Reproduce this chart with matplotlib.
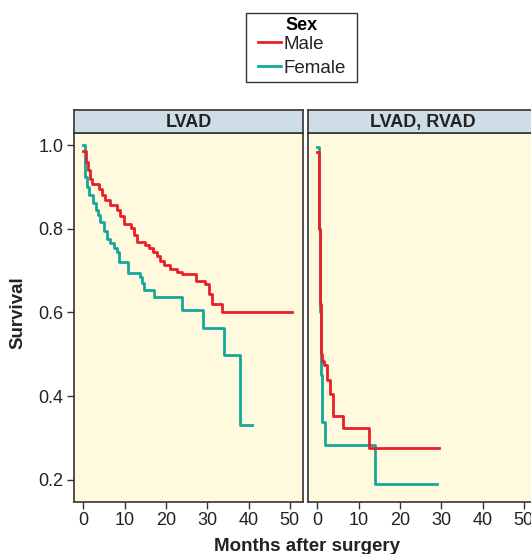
import matplotlib
matplotlib.use("Agg")
import matplotlib.pyplot as plt
from matplotlib.lines import Line2D
from matplotlib.patches import Rectangle

plt.rcParams['font.family'] = ['Liberation Sans', 'DejaVu Sans']

# survival step curves (time in months, survival after that time)
lvad_male_t = [0, 0.5, 1.0, 1.5, 2.1, 3.7, 4.5, 5.3, 6.5, 8.1, 8.8, 9.7, 11.4, 12.2, 13.0,
               15.0, 15.8, 16.8, 17.8, 18.5, 19.4, 21.0, 22.6, 23.8, 27.3, 29.5, 30.3,
               31.1, 33.5, 50.6]
lvad_male_s = [0.985, 0.96, 0.94, 0.92, 0.908, 0.895, 0.88, 0.869, 0.857, 0.845, 0.83, 0.812,
               0.803, 0.785, 0.768, 0.762, 0.755, 0.745, 0.735, 0.722, 0.713, 0.705, 0.697,
               0.692, 0.675, 0.667, 0.645, 0.62, 0.60, 0.60]

lvad_female_t = [0, 0.3, 0.9, 1.3, 2.3, 3.0, 3.5, 4.1, 4.9, 5.7, 6.5, 7.3, 8.1, 8.6, 10.9,
                 13.8, 14.2, 14.6, 17.0, 23.8, 28.9, 34.1, 37.9, 40.9]
lvad_female_s = [1.0, 0.924, 0.90, 0.881, 0.861, 0.845, 0.833, 0.817, 0.795, 0.775, 0.765,
                 0.755, 0.745, 0.72, 0.694, 0.685, 0.67, 0.654, 0.636, 0.606, 0.562, 0.498,
                 0.331, 0.331]

rvad_male_t = [0, 0.3, 0.6, 0.9, 1.0, 1.6, 2.2, 3.0, 3.8, 6.1, 12.6, 29.5]
rvad_male_s = [0.984, 0.8, 0.62, 0.5, 0.483, 0.475, 0.439, 0.405, 0.353, 0.323, 0.277, 0.277]

rvad_female_t = [0, 0.3, 0.6, 0.9, 1.0, 1.8, 13.9, 29.0]
rvad_female_s = [0.996, 0.8, 0.6, 0.45, 0.339, 0.284, 0.19, 0.19]

panels = ["LVAD", "LVAD, RVAD"]
groups = ["Male", "Female"]
colors = {"Male": "#e8202a", "Female": "#14a89a"}
x_ticks = [0, 10, 20, 30, 40, 50]
y_ticks = [0.2, 0.4, 0.6, 0.8, 1.0]

curves = {
    "LVAD": {"Male": (lvad_male_t, lvad_male_s), "Female": (lvad_female_t, lvad_female_s)},
    "LVAD, RVAD": {"Male": (rvad_male_t, rvad_male_s), "Female": (rvad_female_t, rvad_female_s)},
}

fig = plt.figure(figsize=(5.31, 5.54), dpi=100)

W, H = 531, 554
panel_left = [74, 308]
pw = 229
top, bottom, strip_top = 133, 502, 110
edge = "#333333"

for i, name in enumerate(panels):
    ax = fig.add_axes([panel_left[i] / W, 1 - bottom / H, pw / W, (bottom - top) / H])
    ax.set_facecolor("#fffade")
    # female drawn first so red sits on top
    for g in ["Female", "Male"]:
        t, s = curves[name][g]
        ax.plot(t, s, drawstyle="steps-post", color=colors[g], lw=2.0)
    ax.set_xlim(-2.3, 53.2)
    ax.set_ylim(0.147, 1.029)
    ax.set_xticks(x_ticks)
    ax.set_yticks(y_ticks)
    ax.tick_params(colors=edge, labelsize=13, length=5, width=1, labelcolor="#222222", pad=2.5)
    if i > 0:
        ax.tick_params(axis="y", left=False, labelleft=False)
    else:
        ax.set_yticklabels(["0.2", "0.4", "0.6", "0.8", "1.0"])
    for sp in ax.spines.values():
        sp.set_color(edge)
        sp.set_linewidth(1.2)

    sax = fig.add_axes([panel_left[i] / W, 1 - top / H, pw / W, (top - strip_top) / H])
    sax.set_facecolor("#cfdde6")
    sax.set_xticks([])
    sax.set_yticks([])
    for sp in sax.spines.values():
        sp.set_color(edge)
        sp.set_linewidth(1.2)
    sax.text(0.5, 0.45, name, ha="center", va="center", fontsize=13,
             fontweight="bold", color="#222222", transform=sax.transAxes)

fig.text(18 / W, 1 - 313 / H, "Survival", rotation=90, ha="center", va="center",
         fontsize=13.5, fontweight="bold", color="#222222")
fig.text(307 / W, 1 - 551 / H, "Months after surgery", ha="center", va="baseline",
         fontsize=13.5, fontweight="bold", color="#222222")

# legend box drawn separately so the padding matches
fig.patches.append(Rectangle((246 / W, 1 - 82 / H), 111 / W, 69 / H, transform=fig.transFigure,
                             facecolor="white", edgecolor=edge, lw=1.0))
handles = [Line2D([], [], color=colors[g], lw=2.0) for g in groups]
leg = fig.legend(handles, groups, title="Sex", loc="center", bbox_to_anchor=(302 / W, 1 - 47 / H),
                 fontsize=13.5, title_fontproperties={"weight": "bold", "size": 13},
                 frameon=False, handlelength=1.2,
                 handletextpad=0.15, borderpad=0.3, labelspacing=0.35, borderaxespad=0)
leg._legend_box.sep = 1
for txt in leg.get_texts():
    txt.set_color("#222222")

fig.savefig("out.png", dpi=100)
